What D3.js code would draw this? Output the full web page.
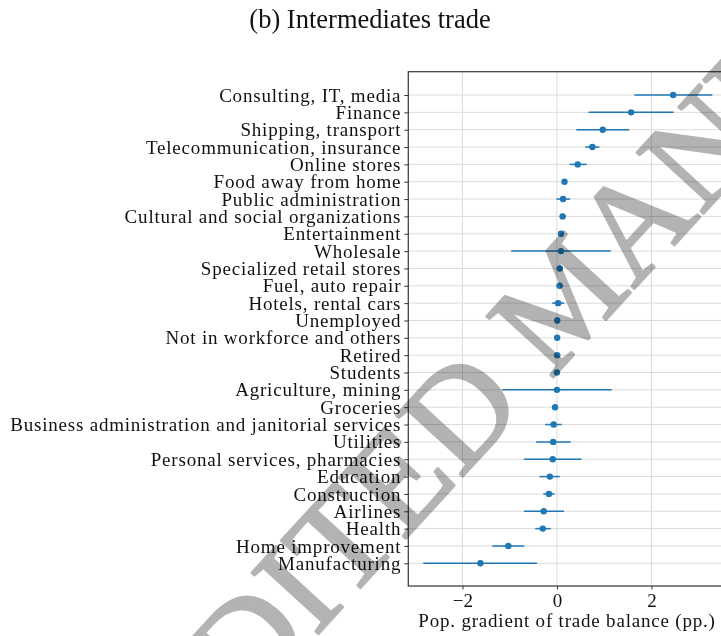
<!DOCTYPE html>
<html><head><meta charset="utf-8">
<script src="https://cdn.jsdelivr.net/npm/d3@7"></script>
<style>body{margin:0;background:#fff;} svg{display:block;}</style>
</head><body><div id="chart"></div>
<script>
const categories = [
  "Consulting, IT, media","Finance","Shipping, transport","Telecommunication, insurance",
  "Online stores","Food away from home","Public administration","Cultural and social organizations",
  "Entertainment","Wholesale","Specialized retail stores","Fuel, auto repair","Hotels, rental cars",
  "Unemployed","Not in workforce and others","Retired","Students","Agriculture, mining","Groceries",
  "Business administration and janitorial services","Utilities","Personal services, pharmacies",
  "Education","Construction","Airlines","Health","Home improvement","Manufacturing"
];
const estimates = [2.46,1.57,0.97,0.75,0.44,0.16,0.13,0.12,0.085,0.085,0.06,0.055,0.025,0.007,0.005,0.005,0.0,0.0,-0.04,-0.07,-0.08,-0.09,-0.15,-0.17,-0.28,-0.30,-1.03,-1.62];
const lower = [1.64,0.67,0.41,0.60,0.27,0.13,-0.01,0.06,0.06,-0.97,-0.01,-0.01,-0.10,-0.02,-0.015,-0.06,-0.02,-1.16,-0.06,-0.25,-0.44,-0.70,-0.37,-0.29,-0.70,-0.46,-1.37,-2.83];
const upper = [3.29,2.47,1.53,0.90,0.63,0.19,0.28,0.19,0.11,1.14,0.12,0.13,0.155,0.035,0.025,0.07,0.02,1.16,-0.02,0.10,0.29,0.52,0.06,-0.05,0.15,-0.13,-0.69,-0.42];
const xTicks = [-2, 0, 2];
const title = "(b) Intermediates trade";
const xLabel = "Pop. gradient of trade balance (pp.)";
const watermark = "UNEDITED MANUSCRIPT";

const W = 721, H = 636;
const svg = d3.select("#chart").append("svg").attr("width", W).attr("height", H);
const plot = {left: 408.3, right: 727, top: 71.7, bottom: 586};
const x = d3.scaleLinear().domain([-3.147, 3.6]).range([plot.left, plot.right]);
const y = d3.scalePoint().domain(categories).range([95, 563.3]);
const blue = "#1f77b4";
const font = "'Liberation Serif', serif";

svg.append("text").attr("x", 370).attr("y", 28).attr("text-anchor", "middle")
  .attr("font-family", font).attr("font-size", 26.5).attr("fill", "#111").text(title);

// grid
const g = svg.append("g");
g.selectAll("line.vg").data(xTicks).join("line").attr("class", "vg")
  .attr("x1", d => x(d)).attr("x2", d => x(d)).attr("y1", plot.top).attr("y2", plot.bottom)
  .attr("stroke", "#dcdcdc").attr("stroke-width", 1);
g.selectAll("line.hg").data(categories).join("line").attr("class", "hg")
  .attr("x1", plot.left).attr("x2", plot.right).attr("y1", d => y(d)).attr("y2", d => y(d))
  .attr("stroke", "#dcdcdc").attr("stroke-width", 1);

// error bars + points
const rows = categories.map((c, i) => ({c, v: estimates[i], lo: lower[i], hi: upper[i]}));
g.selectAll("line.err").data(rows).join("line").attr("class", "err")
  .attr("x1", d => x(d.lo)).attr("x2", d => x(d.hi)).attr("y1", d => y(d.c)).attr("y2", d => y(d.c))
  .attr("stroke", blue).attr("stroke-width", 1.5);
g.selectAll("circle").data(rows).join("circle")
  .attr("cx", d => x(d.v)).attr("cy", d => y(d.c)).attr("r", 3.2).attr("fill", blue);

// frame
svg.append("rect").attr("x", plot.left).attr("y", plot.top)
  .attr("width", plot.right - plot.left).attr("height", plot.bottom - plot.top)
  .attr("fill", "none").attr("stroke", "#3c3c3c").attr("stroke-width", 1.25);

// axes
const ya = svg.append("g").attr("transform", `translate(${plot.left},0)`)
  .call(d3.axisLeft(y).tickSize(4).tickPadding(3));
ya.select(".domain").remove();
ya.selectAll(".tick line").attr("stroke", "#333");
ya.selectAll("text").attr("font-family", font).attr("font-size", 19)
  .attr("letter-spacing", "0.8px").attr("fill", "#111");

const xa = svg.append("g").attr("transform", `translate(0,${plot.bottom})`)
  .call(d3.axisBottom(x).tickValues(xTicks).tickSize(3.5).tickPadding(4)
    .tickFormat(d => d < 0 ? "\u2212" + Math.abs(d) : String(d)));
xa.select(".domain").remove();
xa.selectAll(".tick line").attr("stroke", "#333");
xa.selectAll("text").attr("font-family", font).attr("font-size", 19).attr("fill", "#111");

svg.append("text").attr("x", 567).attr("y", 627).attr("text-anchor", "middle")
  .attr("font-family", font).attr("font-size", 19).attr("letter-spacing", "0.8px")
  .attr("fill", "#111").text(xLabel);

// watermark
svg.append("text").attr("transform", "translate(56,920) rotate(-47.5)")
  .attr("font-family", font).attr("font-size", 138).attr("fill", "#b3b3b3")
  .attr("stroke", "#b3b3b3").attr("stroke-width", 2.5).attr("stroke-linejoin", "round")
  .style("mix-blend-mode", "multiply").text(watermark);
</script></body></html>
